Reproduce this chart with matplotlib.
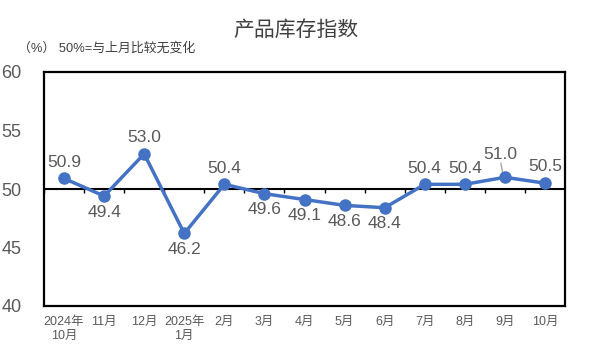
import numpy as np
import matplotlib
matplotlib.use("Agg")
import matplotlib.pyplot as plt

plt.rcParams['font.family'] = ['Liberation Sans', 'Noto Sans CJK SC', 'DejaVu Sans']

months = ["2024年\n10月", "11月", "12月", "2025年\n1月", "2月", "3月", "4月",
          "5月", "6月", "7月", "8月", "9月", "10月"]
values = [50.9, 49.4, 53.0, 46.2, 50.4, 49.6, 49.1, 48.6, 48.4, 50.4, 50.4, 51.0, 50.5]
label_above = [True, False, True, False, True, False, False, False, False, True, True, True, True]

line_color = '#4472C4'
text_color = '#595959'

fig = plt.figure(figsize=(5.91, 3.54), dpi=100)
ax = fig.add_axes([44 / 591, 1 - 306 / 354, 521 / 591, 234 / 354])

x = np.arange(len(values))
ax.plot(x, values, color=line_color, linewidth=2.5, marker='o', markersize=8, zorder=3)

# reference line at 50 with small category ticks
ax.axhline(50, color='black', linewidth=1.5, zorder=2)
ax.vlines(np.arange(-0.5, len(values)), 49.65, 50, color='black', linewidth=1, zorder=2)

for i, (v, up) in enumerate(zip(values, label_above)):
    if i == 11:
        # label lifted with leader line
        ax.plot([i - 0.05, i - 0.1], [v + 0.3, v + 1.2], color='#A6A6A6', linewidth=1, zorder=2)
        ax.text(i - 0.12, v + 1.3, f"{v:.1f}", ha='center', va='bottom', fontsize=12.5, color=text_color)
    elif up:
        ax.text(i, v + 0.75, f"{v:.1f}", ha='center', va='bottom', fontsize=12.5, color=text_color)
    else:
        ax.text(i, v - 0.75, f"{v:.1f}", ha='center', va='top', fontsize=12.5, color=text_color)

ax.set_xlim(-0.5, len(values) - 0.5)
ax.set_ylim(40, 60)
ax.set_yticks([40, 45, 50, 55, 60])
ax.tick_params(axis='y', length=0, labelsize=13, labelcolor=text_color, pad=16)
ax.set_xticks(x)
ax.set_xticklabels(months, va='top', linespacing=1.25)
ax.tick_params(axis='x', length=0, labelsize=9, labelcolor=text_color, pad=7)
for spine in ax.spines.values():
    spine.set_linewidth(1.6)
    spine.set_color('black')

fig.text(0.5, 1 - 30 / 354, "产品库存指数", ha='center', va='center', fontsize=15, color='#404040')
fig.text(18 / 591, 1 - 48 / 354, "（%） 50%=与上月比较无变化", ha='left', va='center',
         fontsize=9.3, color='#404040')

fig.savefig("out.png", dpi=100)
